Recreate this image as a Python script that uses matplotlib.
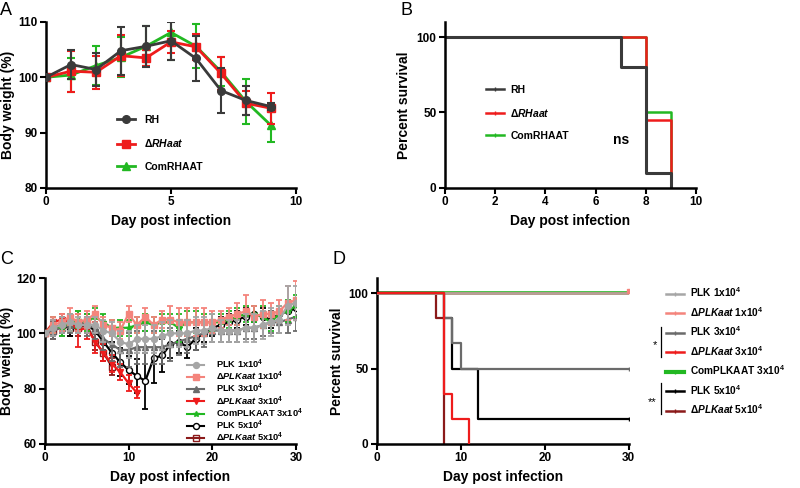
import matplotlib
matplotlib.use('Agg')
import matplotlib.pyplot as plt
from matplotlib.lines import Line2D

plt.rcParams['font.family'] = ['Liberation Sans', 'DejaVu Sans']
plt.rcParams['font.weight'] = 'bold'
plt.rcParams['axes.labelweight'] = 'bold'
plt.rcParams['mathtext.fontset'] = 'custom'
plt.rcParams['mathtext.rm'] = 'Liberation Sans:bold'
plt.rcParams['mathtext.it'] = 'Liberation Sans:italic:bold'
plt.rcParams['mathtext.bf'] = 'Liberation Sans:bold'

# ---------------- Panel A data ----------------
days_a = [0, 1, 2, 3, 4, 5, 6, 7, 8, 9]
rh = [100, 102.3, 101.4, 104.8, 105.6, 106.6, 103.4, 97.6, 95.8, 94.7]
rh_err = [0, 2.6, 2.9, 4.3, 3.7, 3.4, 4.0, 4.1, 2.7, 0.6]
drh = [100, 101.1, 100.9, 103.9, 103.5, 106.4, 105.5, 100.7, 95.3, 94.4]
drh_err = [0, 3.7, 3.0, 3.7, 1.5, 2.0, 2.4, 3.0, 2.2, 2.8]
comrh = [100, 100.4, 102.1, 103.6, 105.6, 108.1, 105.6, 101.0, 95.6, 91.3]
comrh_err = [0, 3.0, 3.5, 3.6, 3.6, 5.0, 4.0, 2.6, 4.1, 3.0]
labels_a = ['RH', r'$\mathit{ΔRHaat}$', 'ComRHAAT']

# ---------------- Panel B data ----------------
t_rh = [0, 7, 8, 9]
s_rh = [100, 80, 10, 0]
t_drh = [0, 8, 9]
s_drh = [100, 45, 0]
t_com = [0, 8, 9]
s_com = [100, 50, 0]

# ---------------- Panel C data ----------------
days_c = list(range(31))
plk1 = [100, 102, 103, 104, 103, 103, 103, 101, 100, 97, 96, 98, 98, 98, 99, 100, 100, 100, 101, 101,
        102, 101, 101, 101, 102, 102, 103, 104, 105, 110, 111]
plk1_err = [0, 3, 3, 3, 3, 3, 3, 4, 4, 4, 5, 5, 5, 5, 5, 5, 5, 5, 5, 5, 5, 4, 4, 4, 5, 5, 5, 5, 5, 7, 6]
dplk1 = [100, 103, 104, 106, 104, 105, 107, 103, 102, 101, 107, 103, 106, 103, 105, 105, 104, 104, 104, 104,
         104, 105, 106, 107, 108, 106, 107, 107, 108, 111, 112]
dplk1_err = [0, 3, 3, 3, 3, 3, 3, 3, 3, 3, 3, 3, 3, 3, 3, 5, 5, 5, 5, 5, 4, 3, 3, 4, 6, 4, 5, 4, 4, 6, 7]
plk3 = [100, 101, 102, 103, 104, 103, 102, 98, 96, 94, 94, 95, 95, 95, 95, 96, 97, 98, 99, 100,
        101, 101, 101, 101, 102, 102, 103, 104, 104, 105, 106]
plk3_err = [0, 3, 3, 3, 4, 4, 4, 4, 6, 6, 6, 6, 6, 6, 6, 6, 5, 5, 5, 5, 4, 4, 4, 4, 4, 4, 4, 4, 4, 5, 5]
dplk3 = [100, 104, 105, 104, 101, 102, 97, 93, 89, 86, 82, 78.5]
dplk3_err = [0, 2, 2, 3, 6, 4, 4, 3, 3, 3, 3, 2]
comc = [100, 103, 102, 104, 105, 104, 106, 104, 102, 102, 102, 103, 104, 103, 104, 104, 102, 104, 104, 104,
        104, 104, 105, 106, 107, 107, 106, 104, 107, 108, 110]
comc_err = [0, 3, 3, 3, 3, 3, 3, 3, 3, 3, 3, 3, 3, 3, 3, 3, 5, 4, 4, 3, 3, 3, 3, 3, 3, 3, 4, 3, 3, 4, 4]
plk5 = [100, 102, 103, 102, 104, 103, 101, 97, 93, 89.6, 86.7, 84.6, 82.8, 91, 92, 96, 97, 95, 98, 100,
        102, 103, 104, 105, 106, 107, 106, 105, 107, 108, 109]
plk5_err = [0, 3, 3, 3, 3, 3, 3, 3, 4, 5, 5, 6, 10, 9, 6, 5, 4, 4, 4, 3, 3, 3, 3, 3, 3, 3, 3, 3, 3, 3, 3]
dplk5 = [100, 101, 103, 102, 102, 103, 97, 93, 88]
dplk5_err = [0, 3, 3, 3, 3, 3, 3, 3, 3]
labels_c = ['PLK 1x10$^4$', r'$\mathit{ΔPLKaat}$ 1x10$^4$', 'PLK 3x10$^4$', r'$\mathit{ΔPLKaat}$ 3x10$^4$',
            'ComPLKAAT 3x10$^4$', 'PLK 5x10$^4$', r'$\mathit{ΔPLKaat}$ 5x10$^4$']

# ---------------- Panel D data ----------------
t_full = [0, 30]
s_full = [100, 100]
t_plk3 = [0, 8, 9, 10, 30]
s_plk3 = [100, 83.3, 66.7, 50, 50]
t_dplk3 = [0, 8, 9, 11]
s_dplk3 = [100, 33.3, 16.7, 0]
t_plk5 = [0, 8, 9, 12, 30]
s_plk5 = [100, 83.3, 50, 16.7, 16.7]
t_dplk5 = [0, 7, 8]
s_dplk5 = [100, 83.3, 0]

C_RH = '#3a3a3a'
C_RED = '#ee1c1c'
C_GREEN = '#22b822'
C_LG = '#a6a6a6'
C_SAL = '#f4847c'
C_DG = '#6b6b6b'
C_DR = '#8b1a1a'

fig = plt.figure(figsize=(8, 4.88), dpi=100)

def style(ax, ylab, ylx):
    for s in ['top', 'right']:
        ax.spines[s].set_visible(False)
    for s in ['left', 'bottom']:
        ax.spines[s].set_linewidth(1.8)
    ax.tick_params(direction='out', length=4, width=1.5, labelsize=8.5, pad=2)
    for lab in ax.get_xticklabels() + ax.get_yticklabels():
        lab.set_fontweight('bold')
    ax.set_xlabel('Day post infection', fontsize=10, fontweight='bold', labelpad=4)
    ax.set_ylabel(ylab, fontsize=10, fontweight='bold')
    ax.yaxis.set_label_coords(ylx, 0.5)

# ---------------- A ----------------
axA = fig.add_axes([0.0575, 0.615, 0.3125, 0.34])
for y, e, c, m, z in [(comrh, comrh_err, C_GREEN, '^', 1), (drh, drh_err, C_RED, 's', 2), (rh, rh_err, C_RH, 'o', 3)]:
    axA.errorbar(days_a, y, yerr=e, color=c, marker=m, ms=5.5, lw=2, elinewidth=1.5,
                 capsize=3, capthick=1.5, zorder=z)
axA.set_xlim(0, 10)
axA.set_ylim(80, 110)
axA.set_xticks([0, 5, 10])
axA.set_yticks([80, 90, 100, 110])
style(axA, 'Body weight (%)', -0.125)
hA = [Line2D([], [], color=C_RH, marker='o', ms=5.5, lw=2),
      Line2D([], [], color=C_RED, marker='s', ms=5.5, lw=2),
      Line2D([], [], color=C_GREEN, marker='^', ms=5.5, lw=2)]
axA.legend(hA, labels_a, loc='upper left', bbox_to_anchor=(0.285, 0.44), frameon=False,
           borderaxespad=0, borderpad=0, labelspacing=1.2, handlelength=1.7,
           handletextpad=0.9, prop={'weight': 'bold', 'size': 7.5})

# ---------------- B ----------------
axB = fig.add_axes([0.556, 0.615, 0.314, 0.34])
axB.step(t_com, s_com, where='post', color=C_GREEN, lw=1.8)
axB.step(t_drh, s_drh, where='post', color=C_RED, lw=1.8)
axB.step(t_rh, s_rh, where='post', color=C_RH, lw=2.2)
axB.set_xlim(0, 10)
axB.set_ylim(0, 110)
axB.set_xticks([0, 2, 4, 6, 8, 10])
axB.set_yticks([0, 50, 100])
style(axB, 'Percent survival', -0.135)
hB = [Line2D([], [], color=C_RH, lw=1.8, marker='|', ms=3),
      Line2D([], [], color=C_RED, lw=1.8, marker='|', ms=3),
      Line2D([], [], color=C_GREEN, lw=1.8, marker='|', ms=3)]
axB.legend(hB, labels_a, loc='upper left', bbox_to_anchor=(0.165, 0.62), frameon=False,
           borderaxespad=0, borderpad=0, labelspacing=1.15, handlelength=1.7,
           handletextpad=0.6, prop={'weight': 'bold', 'size': 7.5})
axB.text(7.0, 32, 'ns', fontsize=10, fontweight='bold', ha='center', va='center')

# ---------------- C ----------------
axC = fig.add_axes([0.056, 0.0902, 0.314, 0.3401])
series_c = [
    (plk1, plk1_err, C_LG, 'o', C_LG, 7),
    (dplk1, dplk1_err, C_SAL, 's', C_SAL, 6),
    (plk3, plk3_err, C_DG, '^', C_DG, 4),
    (dplk3, dplk3_err, C_RED, 'v', C_RED, 3),
    (comc, comc_err, C_GREEN, '*', C_GREEN, 5),
    (plk5, plk5_err, 'black', 'o', 'white', 2),
    (dplk5, dplk5_err, C_DR, 's', 'none', 1),
]
hC = []
for y, e, c, m, fc, z in series_c:
    x = days_c[:len(y)]
    axC.errorbar(x, y, yerr=e, color=c, marker=m, ms=4.3, mfc=fc, mec=c, lw=1.6, elinewidth=1.3,
                 capsize=2.2, capthick=1.3, zorder=z)
    hC.append(Line2D([], [], color=c, marker=m, ms=4.3, mfc=fc, mec=c, lw=1.5))
axC.set_xlim(0, 30)
axC.set_ylim(60, 120)
axC.set_xticks([0, 10, 20, 30])
axC.set_yticks([60, 80, 100, 120])
style(axC, 'Body weight (%)', -0.122)
axC.legend(hC, labels_c, loc='upper left', bbox_to_anchor=(0.565, 0.52), frameon=False,
           borderaxespad=0, borderpad=0, labelspacing=-0.12, handlelength=1.9,
           handletextpad=1.2, prop={'weight': 'bold', 'size': 6.7})

# ---------------- D ----------------
axD = fig.add_axes([0.471, 0.0902, 0.315, 0.3401])
axD.step(t_full, s_full, where='post', color=C_GREEN, lw=2.6, zorder=2)
axD.step(t_full, s_full, where='post', color=C_SAL, lw=1.8, zorder=3)
axD.step(t_full, s_full, where='post', color=C_LG, lw=1.8, alpha=0.75, zorder=4)
axD.plot([30], [101.5], marker='s', ms=2.5, color=C_SAL, zorder=5)
axD.step(t_dplk5, s_dplk5, where='post', color=C_DR, lw=1.6, zorder=2)
axD.step(t_plk5, s_plk5, where='post', color='black', lw=1.6, zorder=3)
axD.step(t_plk3, s_plk3, where='post', color=C_DG, lw=1.6, zorder=4)
axD.step(t_dplk3, s_dplk3, where='post', color=C_RED, lw=1.6, zorder=5)
axD.plot([30], [s_plk3[-1]], marker='|', ms=3, color=C_DG)
axD.plot([30], [s_plk5[-1]], marker='|', ms=3, color='black')
axD.set_xlim(0, 30)
axD.set_ylim(0, 110)
axD.set_xticks([0, 10, 20, 30])
axD.set_yticks([0, 50, 100])
style(axD, 'Percent survival', -0.13)
cols_d = [C_LG, C_SAL, C_DG, C_RED, C_GREEN, 'black', C_DR]
lws_d = [1.8, 1.8, 1.8, 1.8, 3.0, 1.8, 1.8]
hD = [Line2D([], [], color=c, lw=w, marker='|', ms=3) for c, w in zip(cols_d, lws_d)]
fig.legend(hD, labels_c, loc='upper left', bbox_to_anchor=(0.833, 0.415), frameon=False,
           borderaxespad=0, borderpad=0, labelspacing=0.56, handlelength=1.7,
           handletextpad=0.6, prop={'weight': 'bold', 'size': 7.3})
fig.add_artist(Line2D([661 / 800, 661 / 800], [1 - 327 / 488, 1 - 357 / 488], color='black', lw=0.9,
                      transform=fig.transFigure))
fig.add_artist(Line2D([661 / 800, 661 / 800], [1 - 383 / 488, 1 - 414 / 488], color='black', lw=0.9,
                      transform=fig.transFigure))
fig.text(655 / 800, 1 - 345 / 488, '*', fontsize=8, ha='center', va='center', fontweight='normal')
fig.text(652 / 800, 1 - 402 / 488, '**', fontsize=8, ha='center', va='center', fontweight='normal')

# panel letters
for lab, x, y in [('A', 0.0, 0.995), ('B', 0.5, 0.995), ('C', 0.0, 0.485), ('D', 0.415, 0.485)]:
    fig.text(x, y, lab, fontsize=13, fontweight='normal', ha='left', va='top')

fig.savefig('out.png', dpi=100)
